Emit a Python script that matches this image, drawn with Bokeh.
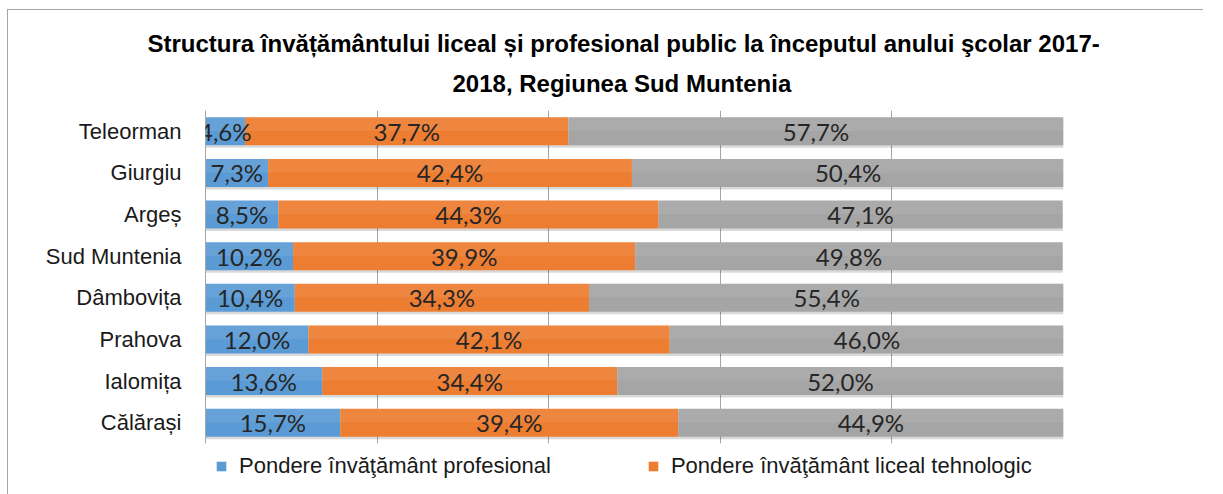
from bokeh.plotting import figure
from bokeh.models import (ColumnDataSource, FactorRange, Range1d, FixedTicker,
                          Legend, LegendItem, Title, LabelSet, Grid)
from bokeh.layouts import column
from bokeh.transform import dodge
from bokeh.core.properties import value
from bokeh.embed import file_html
from bokeh.resources import INLINE

# ---- data ----
categories = ["Teleorman", "Giurgiu", "Argeș", "Sud Muntenia",
              "Dâmbovița", "Prahova", "Ialomița", "Călărași"]
profesional = [4.6, 7.3, 8.5, 10.2, 10.4, 12.0, 13.6, 15.7]
liceal_tehnologic = [37.7, 42.4, 44.3, 39.9, 34.3, 42.1, 34.4, 39.4]
liceal_teoretic = [57.7, 50.4, 47.1, 49.8, 55.4, 46.0, 52.0, 44.9]
series_names = ["Pondere învăţământ profesional",
                "Pondere învăţământ liceal tehnologic",
                "Pondere învăţământ liceal teoretic"]
title_lines = ["Structura învățământului liceal și profesional public la începutul anului şcolar 2017-",
               "2018, Regiunea Sud Muntenia"]
x_ticks = [0, 20, 40, 60, 80, 100]

COLORS = ["#5B9BD5", "#ED7D31", "#A5A5A5"]
SANS = "Liberation Sans"


def fmt(v):
    return f"{v:.1f}".replace(".", ",") + "%"


a = profesional
b = liceal_tehnologic
c = liceal_teoretic
e1 = [x for x in a]
e2 = [x + y for x, y in zip(a, b)]
e3 = [x + y + z for x, y, z in zip(a, b, c)]

src = ColumnDataSource(dict(
    cat=categories,
    s0=[0] * len(a), e1=e1, e2=e2, e3=e3,
    c1=[x / 2 for x in a],
    c2=[p + q / 2 for p, q in zip(e1, b)],
    c3=[p + q / 2 for p, q in zip(e2, c)],
    t1=[fmt(v) for v in a],
    t2=[fmt(v) for v in b],
    t3=[fmt(v) for v in c],
))

FW, FH = 858, 333
p = figure(frame_width=FW, frame_height=FH, output_backend="svg", toolbar_location=None,
           y_range=FactorRange(factors=list(reversed(categories))),
           x_range=Range1d(0, 100), x_axis_location=None,
           min_border_left=197, min_border_right=140,
           min_border_top=100, min_border_bottom=20)
p.outline_line_color = None
p.background_fill_color = "white"
p.border_fill_color = "white"

p.add_layout(Grid(dimension=0, ticker=FixedTicker(ticks=x_ticks),
                  grid_line_color="#a6a6a6"))

bh = 0.67
# shadow
p.hbar(y=dodge("cat", -0.06, range=p.y_range), left="s0", right="e3", height=bh,
       source=src, fill_color="black", fill_alpha=0.15, line_color=None)

r1 = p.hbar(y="cat", left="s0", right="e1", height=bh, source=src,
            fill_color=COLORS[0], line_color=None)
r2 = p.hbar(y="cat", left="e1", right="e2", height=bh, source=src,
            fill_color=COLORS[1], line_color=None)
r3 = p.hbar(y="cat", left="e2", right="e3", height=bh, source=src,
            fill_color=COLORS[2], line_color=None)
# light top sheen
p.hbar(y=dodge("cat", 0.17, range=p.y_range), left="s0", right="e3", height=0.33,
       source=src, fill_color="white", fill_alpha=0.07, line_color=None)

for col, xc in (("t1", "c1"), ("t2", "c2"), ("t3", "c3")):
    p.add_layout(LabelSet(x=xc, y="cat", text=col, source=src,
                          text_align="center", text_baseline="middle",
                          text_font=value("Lato"), text_font_size="24px",
                          text_color="#262626"))

p.ygrid.grid_line_color = None
yax = p.yaxis[0]
yax.axis_line_color = "#a6a6a6"
yax.major_tick_line_color = None
yax.minor_tick_line_color = None
yax.major_label_standoff = 18
yax.major_label_text_font = SANS
yax.major_label_text_font_size = "22px"
yax.major_label_text_color = "#1a1a1a"

title_offsets = [-58, 247]
title_standoffs = [-6, 28]
for line, off, so in reversed(list(zip(title_lines, title_offsets, title_standoffs))):
    t = Title(text=line, align="left", text_font=SANS, text_font_style="bold",
              text_font_size="24px", text_color="#000000", offset=off,
              standoff=so)
    p.add_layout(t, "above")

legend = Legend(items=[LegendItem(label=series_names[0], renderers=[r1]),
                       LegendItem(label=series_names[1], renderers=[r2])],
                orientation="horizontal", location="top_left", spacing=96,
                glyph_width=12, glyph_height=12, label_standoff=12,
                padding=0, margin=10, border_line_color=None,
                background_fill_alpha=0,
                label_text_font=SANS, label_text_font_size="22px",
                label_text_color="#1a1a1a")
p.add_layout(legend, "below")

page = column(p, styles={"border-left": "1px solid #a6a6a6",
                         "border-top": "1px solid #a6a6a6",
                         "margin-top": "9px", "margin-left": "7px"})

open("out.html", "w").write(file_html(page, INLINE))
